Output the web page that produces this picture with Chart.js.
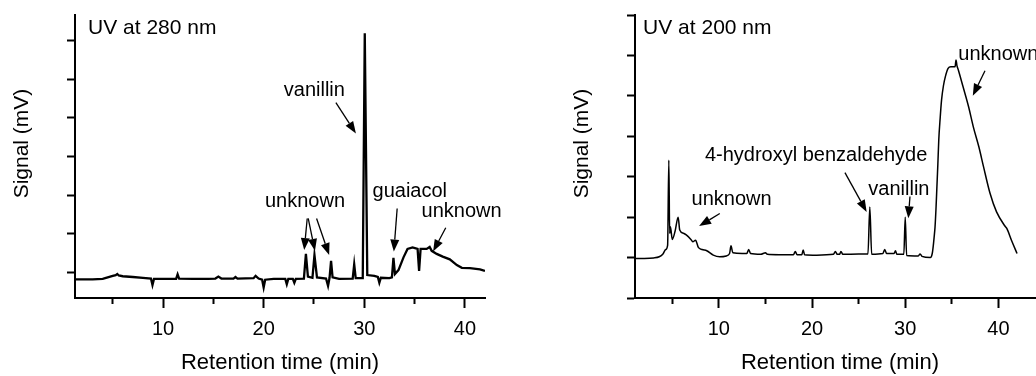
<!DOCTYPE html>
<html>
<head>
<meta charset="utf-8">
<script src="https://cdn.jsdelivr.net/npm/chart.js@4.4.0/dist/chart.umd.min.js"></script>
<style>
    html, body { margin: 0; padding: 0; background: #fff; overflow: hidden; width: 1036px; height: 376px; }
    #left { position: absolute; left: 0; top: 0; }
    #right { position: absolute; left: 518px; top: 0; }
</style>
</head>
<body>
<canvas id="left" width="518" height="376"></canvas>
<canvas id="right" width="560" height="376"></canvas>
<script>
// UV 280 nm trace
const time280 = [1.25, 2, 3, 4, 4.5, 5, 5.3, 5.45, 5.6, 6, 7, 8, 8.8, 8.95, 9.1, 10, 11.3, 11.45, 11.6, 13,
    14.5, 15.2, 15.5, 15.8, 17, 17.2, 17.4, 19, 19.2, 19.5, 19.85, 20.0, 20.15, 21, 22.15, 22.3, 22.45, 22.9, 23.05, 23.2,
    24, 24.2, 24.4, 24.85, 25.05, 25.3, 26.2, 26.4, 26.55, 26.7, 26.85, 27.5, 28.85, 29.0, 29.15, 29.85, 30.05, 30.3, 31, 31.35,
    31.5, 31.65, 32.5, 32.75, 32.9, 33.05, 33.4, 33.9, 34.3, 34.8, 35.3, 35.45, 35.6, 36.2, 36.5, 36.7, 37.2, 37.8, 38.5, 39.2,
    39.7, 40.5, 41.5, 42];
const signal280 = [-0.19, -0.19, -0.19, -0.18, -0.14, -0.1, -0.08, -0.05, -0.09, -0.11, -0.13, -0.15, -0.17, -0.34, -0.18, -0.18, -0.18, -0.06, -0.17, -0.18,
    -0.18, -0.17, -0.12, -0.17, -0.17, -0.13, -0.17, -0.16, -0.1, -0.17, -0.2, -0.4, -0.2, -0.18, -0.18, -0.32, -0.18, -0.18, -0.28, -0.18,
    -0.17, 0.47, -0.12, -0.15, 0.44, -0.14, -0.17, -0.36, -0.15, 0.29, -0.14, -0.18, -0.17, 0.2, -0.16, -0.16, 6.2, -0.08, -0.1, -0.13,
    -0.28, -0.15, -0.16, -0.14, 0.37, -0.05, 0.05, 0.38, 0.6, 0.64, 0.6, 0.03, 0.6, 0.6, 0.65, 0.55, 0.47, 0.4, 0.33, 0.18,
    0.11, 0.1, 0.07, 0.03];

// UV 200 nm trace
const time200 = [1, 2, 3, 3.6, 4.0, 4.3, 4.5, 4.63, 4.72, 4.8, 5.0, 5.3, 5.63, 5.8, 6.2, 6.5, 7.0, 7.2, 7.5, 7.8,
    8.2, 8.7, 9.4, 10.1, 10.8, 11.15, 11.3, 11.5, 12.5, 13.0, 13.2, 13.4, 14.5, 15.0, 15.2, 16.5, 18.0, 18.2, 18.4, 18.9,
    19.05, 19.2, 20.5, 22.3, 22.5, 22.7, 22.95, 23.1, 23.3, 25, 26.0, 26.2, 26.4, 27.6, 27.8, 28.0, 28.8, 28.95, 29.1, 29.85,
    30.0, 30.15, 31.4, 31.6, 31.8, 32.7, 32.9, 33.0, 33.1, 33.2, 33.3, 33.4, 33.5, 33.6, 33.75, 33.9, 34.1, 34.3, 34.6, 34.9,
    35.2, 35.35, 35.45, 35.55, 35.7, 36.2, 36.8, 37.3, 37.9, 38.4, 39.1, 39.8, 40.7, 40.9, 41.4, 42.0];
const signal200 = [0.98, 0.98, 0.99, 1.02, 1.09, 1.2, 1.3, 3.41, 1.6, 1.76, 1.45, 1.65, 2.0, 1.68, 1.6, 1.56, 1.45, 1.39, 1.43, 1.25,
    1.2, 1.17, 1.06, 1.02, 1.04, 1.1, 1.29, 1.12, 1.1, 1.1, 1.2, 1.1, 1.08, 1.12, 1.08, 1.07, 1.07, 1.15, 1.07, 1.07,
    1.19, 1.07, 1.06, 1.08, 1.15, 1.08, 1.08, 1.15, 1.08, 1.09, 1.09, 2.25, 1.08, 1.1, 1.2, 1.1, 1.1, 1.17, 1.08, 1.08,
    2.0, 1.05, 1.04, 1.09, 1.03, 1.0, 1.1, 1.27, 1.5, 1.76, 2.2, 2.75, 3.3, 3.91, 4.45, 4.9, 5.25, 5.47, 5.68, 5.72,
    5.72, 5.72, 5.89, 5.75, 5.64, 5.23, 4.73, 4.24, 3.74, 3.25, 2.59, 2.13, 1.78, 1.72, 1.43, 1.1];

const xTicks280 = [5, 10, 15, 20, 25, 30, 35, 40];
const xTicks200 = [5, 10, 15, 20, 25, 30, 35, 40, 45];
const xLabelTicks = [10, 20, 30, 40];
const yTicks280 = [0, 1, 2, 3, 4, 5, 6];
const yTicks200 = [0, 1, 2, 3, 4, 5, 6, 7];

// annotations, in data units
const labels280 = [
    {text: 'UV at 280 nm', x: 2.55, y: 6.17, size: 21},
    {text: 'vanillin', x: 22.0, y: 4.57},
    {text: 'unknown', x: 20.13, y: 1.70},
    {text: 'guaiacol', x: 30.82, y: 1.96},
    {text: 'unknown', x: 35.69, y: 1.44}
];
const arrows280 = [[27.18, 4.40, 29.17, 3.60], [24.33, 1.39, 24.03, 0.57], [24.43, 1.39, 25.1, 0.55],
    [25.26, 1.39, 26.51, 0.44], [33.27, 1.65, 32.94, 0.53], [38.1, 1.15, 36.84, 0.53]];
const labels200 = [
    {text: 'UV at 200 nm', x: 1.87, y: 6.52, size: 21},
    {text: 'unknown', x: 35.7, y: 5.89},
    {text: '4-hydroxyl benzaldehyde', x: 8.5, y: 3.39},
    {text: 'vanillin', x: 26.04, y: 2.55},
    {text: 'unknown', x: 7.07, y: 2.30}
];
const arrows200 = [[38.56, 5.62, 37.25, 5.0], [23.53, 3.10, 25.86, 2.13], [30.51, 2.51, 30.33, 1.97], [10.1, 2.09, 7.88, 1.78]];

const FONT = "'Liberation Sans', Arial, Helvetica, sans-serif";
Chart.defaults.font.family = FONT;
Chart.defaults.color = '#000';

function drawArrow(ctx, x1, y1, x2, y2) {
    const ang = Math.atan2(y2 - y1, x2 - x1);
    const head = 12, half = 4.5;
    const bx = x2 - head * Math.cos(ang), by = y2 - head * Math.sin(ang);
    ctx.lineWidth = 1.3;
    ctx.beginPath();
    ctx.moveTo(x1, y1);
    ctx.lineTo(bx, by);
    ctx.stroke();
    ctx.beginPath();
    ctx.moveTo(x2, y2);
    ctx.lineTo(bx + half * Math.sin(ang), by - half * Math.cos(ang));
    ctx.lineTo(bx - half * Math.sin(ang), by + half * Math.cos(ang));
    ctx.closePath();
    ctx.fill();
}

function notesPlugin(labels, arrows) {
    return {
        id: 'notes',
        afterDatasetsDraw(chart) {
            const {ctx, chartArea, scales: {x, y}} = chart;
            ctx.save();
            ctx.fillStyle = '#000';
            ctx.strokeStyle = '#000';
            ctx.textAlign = 'left';
            ctx.textBaseline = 'alphabetic';
            labels.forEach(l => {
                ctx.font = (l.size || 20) + 'px ' + FONT;
                ctx.fillText(l.text, x.getPixelForValue(l.x), y.getPixelForValue(l.y));
            });
            arrows.forEach(a => {
                drawArrow(ctx, x.getPixelForValue(a[0]), y.getPixelForValue(a[1]),
                    x.getPixelForValue(a[2]), y.getPixelForValue(a[3]));
            });
            // y axis title, sits a little above the middle of the axis
            ctx.font = '21px ' + FONT;
            ctx.textAlign = 'center';
            ctx.textBaseline = 'middle';
            ctx.translate(y.left + 22.5, (chartArea.top + chartArea.bottom) / 2 - 13);
            ctx.rotate(-Math.PI / 2);
            ctx.fillText('Signal (mV)', 0, 0);
            ctx.restore();
        }
    };
}

function makeChart(id, times, signals, opts) {
    return new Chart(document.getElementById(id), {
        type: 'line',
        data: {
            datasets: [{
                data: times.map((t, i) => ({x: t, y: signals[i]})),
                borderColor: '#000',
                borderWidth: opts.lineWidth,
                pointRadius: 0,
                cubicInterpolationMode: opts.smooth ? 'monotone' : 'default',
                tension: 0
            }]
        },
        options: {
            responsive: false,
            animation: false,
            devicePixelRatio: 1,
            layout: {padding: opts.padding},
            plugins: {legend: {display: false}, tooltip: {enabled: false}},
            scales: {
                x: {
                    type: 'linear',
                    min: opts.xMin,
                    max: opts.xMax,
                    afterBuildTicks: s => { s.ticks = opts.xTicks.map(v => ({value: v})); },
                    afterFit: s => { s.height = 78; },
                    ticks: {
                        font: {size: 20},
                        padding: 9,
                        maxRotation: 0,
                        autoSkip: false,
                        callback: v => xLabelTicks.includes(v) ? String(v) : ''
                    },
                    grid: {
                        drawOnChartArea: false,
                        tickLength: 10,
                        tickWidth: 2,
                        tickColor: '#000',
                        tickBorderDash: c => (c.tick && xLabelTicks.includes(c.tick.value)) ? [] : [5, 50]
                    },
                    border: {color: '#000', width: 2},
                    title: {display: true, text: 'Retention time (min)', font: {size: 22}, padding: {top: 0, bottom: 0}}
                },
                y: {
                    min: opts.yMin,
                    max: opts.yMax,
                    afterBuildTicks: s => { s.ticks = opts.yTicks.map(v => ({value: v})); },
                    afterFit: s => { s.width = 75; },
                    ticks: {display: false},
                    grid: {drawOnChartArea: false, tickLength: 8, tickWidth: 2, tickColor: '#000'},
                    border: {color: '#000', width: 2},
                    title: {display: false}
                }
            }
        },
        plugins: [notesPlugin(opts.labels, opts.arrows)]
    });
}

makeChart('left', time280, signal280, {
    lineWidth: 2.3,
    smooth: false,
    padding: {left: 0, right: 33, top: 15, bottom: 0},
    xMin: 1.25, xMax: 42, xTicks: xTicks280,
    yMin: -0.675, yMax: 6.675, yTicks: yTicks280,
    labels: labels280, arrows: arrows280
});

makeChart('right', time200, signal200, {
    lineWidth: 1.5,
    smooth: true,
    padding: {left: 42, right: 33, top: 15, bottom: 0},
    xMin: 1, xMax: 45, xTicks: xTicks200,
    yMin: 0, yMax: 7, yTicks: yTicks200,
    labels: labels200, arrows: arrows200
});
</script>
</body>
</html>
